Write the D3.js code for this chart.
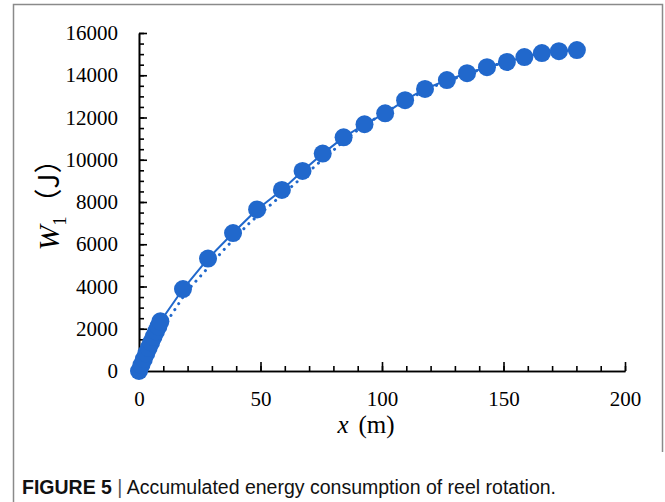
<!DOCTYPE html>
<html>
<head>
<meta charset="utf-8">
<script src="https://cdn.jsdelivr.net/npm/d3@7"></script>
<style>
body { margin: 0; background: #fff; }
svg { display: block; }
.axis text { font-family: "Liberation Serif", "Times New Roman", serif; font-size: 21px; fill: #000; }
.axis path, .axis line { stroke: #000; stroke-width: 1.6; }
</style>
</head>
<body>
<svg width="665" height="502"></svg>
<script>
// measured points (markers + solid line)
var xs = [0, 1, 2, 3, 4, 5, 6, 7, 8, 8.8, 18.1, 28.4, 38.7, 48.6, 58.8, 67.3, 75.6, 84.2, 92.8, 101.3, 109.5, 117.7, 126.7, 135, 143.2, 151.4, 158.6, 165.8, 172.8, 180.2];
var ws = [0, 280, 560, 830, 1100, 1360, 1620, 1870, 2110, 2350, 3880, 5320, 6530, 7650, 8570, 9470, 10290, 11060, 11680, 12200, 12820, 13350, 13770, 14100, 14380, 14630, 14860, 15050, 15140, 15190];

// dotted curve
var fitX = [0, 5, 10, 15, 20, 25, 30, 35, 40, 45, 50, 55, 60, 70, 80, 90, 100, 110, 120, 130, 140, 150, 160, 170, 180];
var fitW = [0, 1050, 2050, 2950, 3800, 4450, 5100, 5750, 6350, 6950, 7450, 7950, 8450, 9450, 10450, 11400, 12150, 12800, 13400, 13850, 14250, 14600, 14900, 15100, 15200];

var xTicks = [0, 50, 100, 150, 200];
var yTicks = [0, 2000, 4000, 6000, 8000, 10000, 12000, 14000, 16000];

var blue = "#2168cc";

var svg = d3.select('svg');

// figure frame
svg.append("path")
    .attr("d", "M13.5,502V4.5H662.5V452")
    .attr("fill", "none")
    .attr("stroke", "#8a8a8a")
    .attr("stroke-width", 1.5);

var x = d3.scaleLinear().domain([0, 200]).range([139, 625]);
var y = d3.scaleLinear().domain([0, 16000]).range([371, 33]);

// minor ticks
svg.append("g")
    .attr("class", "axis")
    .attr("transform", "translate(0,371)")
    .call(d3.axisBottom(x).tickValues(d3.range(0, 201, 10)).tickSizeInner(-5).tickSizeOuter(0).tickFormat(""));
svg.append("g")
    .attr("class", "axis")
    .attr("transform", "translate(139,0)")
    .call(d3.axisLeft(y).tickValues(d3.range(0, 16001, 500)).tickSizeInner(-5).tickSizeOuter(0).tickFormat(""));

// major ticks + labels
svg.append("g")
    .attr("class", "axis")
    .attr("transform", "translate(0,371)")
    .call(d3.axisBottom(x).tickValues(xTicks).tickSizeInner(-9).tickSizeOuter(0).tickPadding(20).tickFormat(d3.format("d")));
svg.append("g")
    .attr("class", "axis")
    .attr("transform", "translate(139,0)")
    .call(d3.axisLeft(y).tickValues(yTicks).tickSizeInner(-8).tickSizeOuter(0).tickPadding(21).tickFormat(d3.format("d")));

svg.selectAll(".axis .domain").attr("stroke-width", 1.8);

// dotted curve
var fitPts = fitX.map(function (d, i) { return [d, fitW[i]]; });
svg.append("path")
    .datum(fitPts)
    .attr("fill", "none")
    .attr("stroke", blue)
    .attr("stroke-width", 3)
    .attr("stroke-linecap", "round")
    .attr("stroke-dasharray", "0.1 7")
    .attr("d", d3.line().curve(d3.curveMonotoneX)
        .x(function (d) { return x(d[0]); })
        .y(function (d) { return y(d[1]); }));

// solid line through points
var pts = xs.map(function (d, i) { return [d, ws[i]]; });
svg.append("path")
    .datum(pts)
    .attr("fill", "none")
    .attr("stroke", blue)
    .attr("stroke-width", 2)
    .attr("d", d3.line()
        .x(function (d) { return x(d[0]); })
        .y(function (d) { return y(d[1]); }));

svg.selectAll(".pt")
    .data(pts)
    .enter().append("circle")
    .attr("class", "pt")
    .attr("cx", function (d) { return x(d[0]); })
    .attr("cy", function (d) { return y(d[1]); })
    .attr("r", 9)
    .attr("fill", blue);

// axis titles
var xt = svg.append("text")
    .attr("x", 366)
    .attr("y", 433)
    .attr("text-anchor", "middle")
    .attr("font-family", "Liberation Serif, serif")
    .attr("font-size", 25);
xt.append("tspan").attr("font-style", "italic").text("x");
xt.append("tspan").attr("dx", 10).text("(m)");

var yt = svg.append("text")
    .attr("transform", "translate(59,198) rotate(-90)")
    .attr("text-anchor", "middle")
    .attr("font-family", "Liberation Serif, Noto Sans CJK SC, serif")
    .attr("font-size", 30);
yt.append("tspan").attr("font-style", "italic").text("W");
yt.append("tspan").attr("font-size", 18).attr("dy", 7).text("1");
yt.append("tspan").attr("dy", -7).attr("font-size", 28).attr("font-family", "Noto Sans CJK SC, serif").text("（J）");

// caption
var cap = svg.append("text")
    .attr("x", 22)
    .attr("y", 494)
    .attr("font-family", "Liberation Sans, Arial, sans-serif")
    .attr("font-size", 19.5)
    .attr("fill", "#111");
cap.append("tspan").attr("font-weight", "bold").text("FIGURE 5");
cap.append("tspan").attr("fill", "#555").text(" | ");
cap.append("tspan").text("Accumulated energy consumption of reel rotation.");
</script>
</body>
</html>
